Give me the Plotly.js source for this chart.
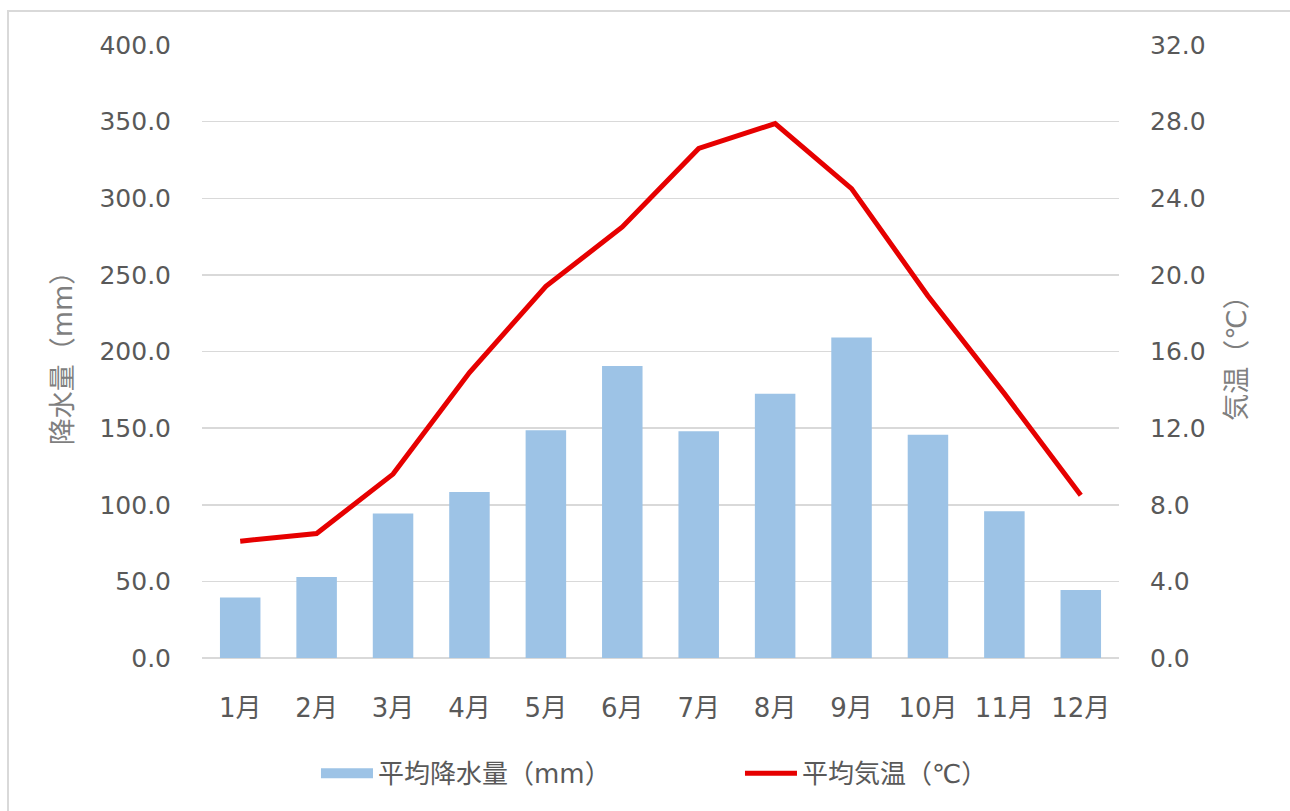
<!DOCTYPE html>
<html>
<head>
<meta charset="utf-8">
<script src="https://cdn.plot.ly/plotly-3.0.1.min.js"></script>
<style>
  html, body { margin: 0; padding: 0; background: #ffffff; overflow: hidden; }
  #frame { position: absolute; left: 7px; top: 10px; width: 1300px; height: 820px; border: 2px solid #d9d9d9; box-sizing: border-box; }
  #chart { position: absolute; left: 0; top: 0; width: 1290px; height: 811px; }
</style>
</head>
<body>
<div id="frame"></div>
<div id="chart"></div>
<script>
const months = ["1月","2月","3月","4月","5月","6月","7月","8月","9月","10月","11月","12月"];
const precipitation = [39.4, 52.9, 94.3, 108.4, 148.6, 190.6, 148.0, 172.5, 209.1, 145.6, 95.8, 44.4];
const temperature = [6.1, 6.5, 9.6, 14.9, 19.4, 22.5, 26.6, 27.9, 24.5, 18.9, 13.8, 8.5];
const precipTicks = [0, 50, 100, 150, 200, 250, 300, 350, 400];
const tempTicks = [0, 4, 8, 12, 16, 20, 24, 28, 32];
const seriesNames = ["平均降水量（mm）", "平均気温（℃）"];

const FONT = "DejaVu Sans, 'Noto Sans CJK JP', sans-serif";
const TEXT = "#595959";
const BAR = "#9dc3e6";
const LINE = "#e60000";

const traces = [
  {
    type: "bar",
    name: seriesNames[0],
    x: months,
    y: precipitation,
    marker: { color: BAR },
    yaxis: "y",
    showlegend: false
  },
  {
    // legend entry for the bars, drawn as a wide swatch
    type: "scatter",
    mode: "lines",
    name: seriesNames[0],
    x: [null],
    y: [null],
    line: { color: BAR, width: 14 },
    yaxis: "y",
    showlegend: true,
    hoverinfo: "skip"
  },
  {
    type: "scatter",
    mode: "lines",
    name: seriesNames[1],
    x: months,
    y: temperature,
    line: { color: LINE, width: 5 },
    yaxis: "y2"
  }
];

const layout = {
  width: 1290,
  height: 811,
  margin: { l: 201.5, r: 170.5, t: 45, b: 153.3 },
  paper_bgcolor: "rgba(0,0,0,0)",
  plot_bgcolor: "rgba(0,0,0,0)",
  font: { family: FONT, color: TEXT, size: 24 },
  bargap: 0.47,
  showlegend: true,
  legend: {
    orientation: "h",
    x: 0.1243, xanchor: "left",
    y: -0.188, yanchor: "middle",
    font: { family: FONT, size: 26, color: TEXT },
    entrywidth: 357,
    entrywidthmode: "pixels",
    itemwidth: 52,
    bgcolor: "rgba(0,0,0,0)"
  },
  xaxis: {
    type: "category",
    showgrid: false,
    zeroline: false,
    showline: false,
    ticks: "",
    ticklabelstandoff: 32,
    tickfont: { family: FONT, size: 26, color: TEXT },
    fixedrange: true
  },
  yaxis: {
    range: [0, 400],
    tickvals: precipTicks,
    tickformat: ".1f",
    showgrid: true,
    gridcolor: "#d9d9d9",
    gridwidth: 1.5,
    zeroline: true,
    zerolinecolor: "#d9d9d9",
    zerolinewidth: 1.5,
    showline: false,
    ticks: "",
    ticklabelstandoff: 30,
    tickfont: { family: FONT, size: 25, color: TEXT },
    automargin: true,
    title: { text: "降水量（mm）", font: { family: FONT, size: 27, color: "#7f7f7f" }, standoff: 18 },
    fixedrange: true
  },
  yaxis2: {
    overlaying: "y",
    side: "right",
    range: [0, 32],
    tickvals: tempTicks,
    tickformat: ".1f",
    showgrid: false,
    zeroline: false,
    showline: false,
    ticks: "",
    ticklabelstandoff: 30,
    tickfont: { family: FONT, size: 25, color: TEXT },
    automargin: true,
    title: { text: "気温（℃）", font: { family: FONT, size: 27, color: "#7f7f7f" }, standoff: 22 },
    fixedrange: true
  }
};

Plotly.newPlot("chart", traces, layout, { displayModeBar: false, staticPlot: true });
</script>
</body>
</html>
